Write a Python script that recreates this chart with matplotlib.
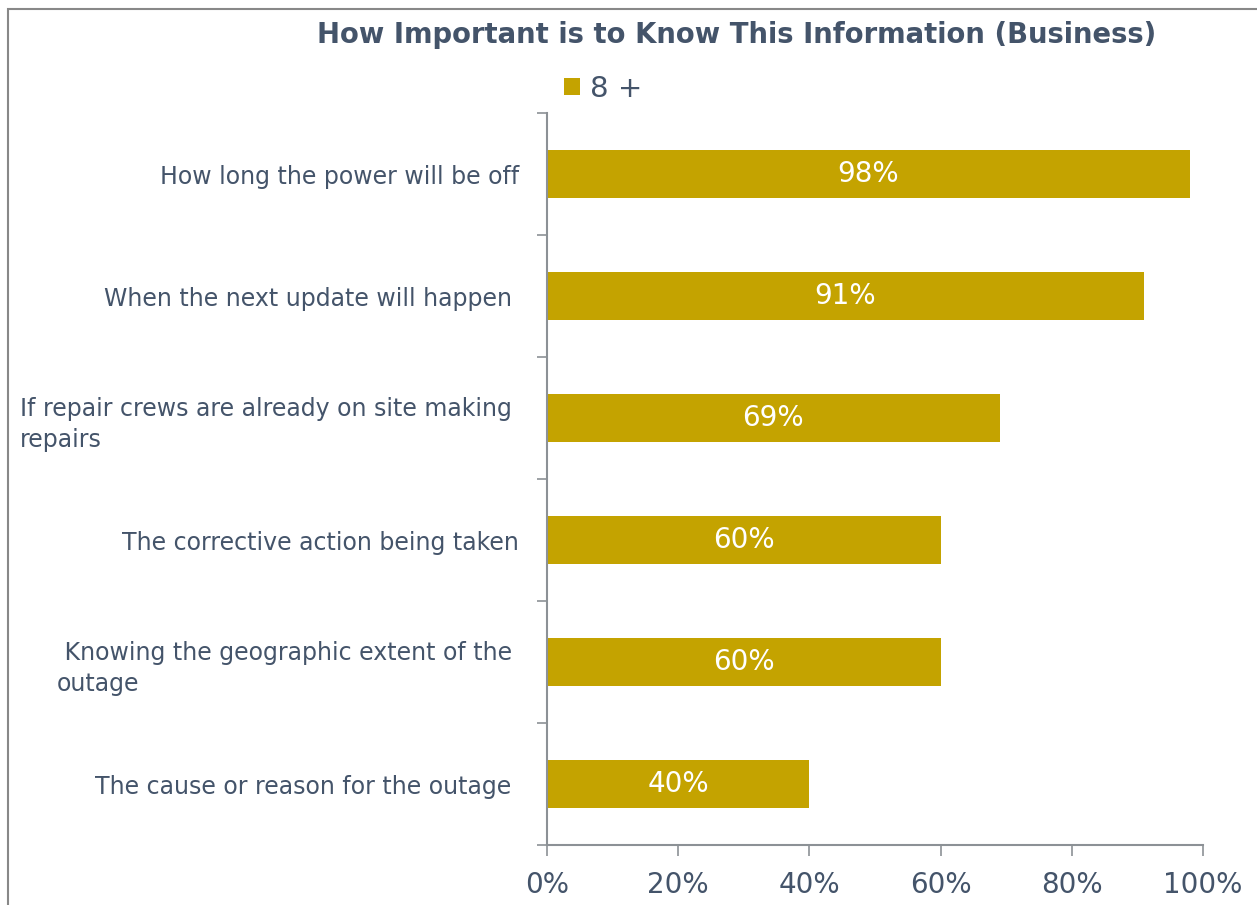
import matplotlib
matplotlib.use("Agg")
import matplotlib.pyplot as plt
from matplotlib.patches import Rectangle

categories = [
    "How long the power will be off",
    "When the next update will happen ",
    "If repair crews are already on site making \nrepairs",
    "The corrective action being taken",
    " Knowing the geographic extent of the \noutage",
    "The cause or reason for the outage ",
]
values = [98, 91, 69, 60, 60, 40]
series_name = "8 +"
xticks = [0, 20, 40, 60, 80, 100]
xtick_labels = ["0%", "20%", "40%", "60%", "80%", "100%"]

bar_color = "#C4A300"
text_color = "#44546A"
axis_color = "#8C9196"

plt.rcParams['font.family'] = ['DejaVu Sans']

fig = plt.figure(figsize=(12.57, 9.05), dpi=100)
ax = fig.add_axes([547/1257, 1-845/905, (1203-547)/1257, (845-113)/905])

n = len(categories)
ypos = list(range(n))
bars = ax.barh(ypos, values, height=0.4, color=bar_color, label=series_name)
ax.set_ylim(n - 0.5, -0.5)
ax.set_xlim(0, 100)

for y, v in zip(ypos, values):
    ax.text(v / 2, y, f"{v}%", color="white", ha="center", va="center", fontsize=20)

ax.set_yticks(ypos)
ax.set_yticklabels(categories, fontsize=17, color=text_color, linespacing=1.4)
for lbl in ax.get_yticklabels():
    lbl.set_multialignment('left')
ax.tick_params(axis='y', length=0, pad=20)
ax.set_yticks([i - 0.5 for i in range(n + 1)], minor=True)
ax.tick_params(axis='y', which='minor', length=7, color=axis_color, width=1.2, direction='out')

ax.set_xticks(xticks)
ax.set_xticklabels(xtick_labels, fontsize=20, color=text_color)
ax.tick_params(axis='x', length=8, color=axis_color, width=1.2, direction='out', pad=11)

for s in ['top', 'right']:
    ax.spines[s].set_visible(False)
for s in ['left', 'bottom']:
    ax.spines[s].set_color(axis_color)
    ax.spines[s].set_linewidth(1.5)

fig.text(737/1257, 1-35/905, "How Important is to Know This Information (Business)",
         ha="center", va="center", fontsize=19.8, fontweight="bold", color=text_color)

leg = fig.legend(handles=[bars], labels=[series_name], loc="center left",
                 bbox_to_anchor=(538/1257, 1-89/905), frameon=False, fontsize=21,
                 handlelength=0.55, handleheight=0.55, handletextpad=0.35, labelcolor=text_color)

# figure border
fig.patches.append(Rectangle((8/1257, -0.01), 1.05, 1 - 9/905 + 0.01, transform=fig.transFigure,
                             fill=False, edgecolor="#888888", linewidth=1.5))

fig.savefig("out.png", dpi=100)
